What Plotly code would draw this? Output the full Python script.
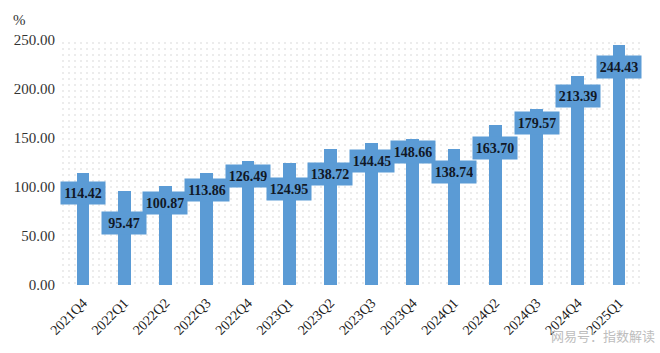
import plotly.graph_objects as go

categories = ["2021Q4", "2022Q1", "2022Q2", "2022Q3", "2022Q4", "2023Q1", "2023Q2",
              "2023Q3", "2023Q4", "2024Q1", "2024Q2", "2024Q3", "2024Q4", "2025Q1"]
values = [114.42, 95.47, 100.87, 113.86, 126.49, 124.95, 138.72,
          144.45, 148.66, 138.74, 163.70, 179.57, 213.39, 244.43]
tick_vals = [0, 50, 100, 150, 200, 250]
tick_text = ["0.00", "50.00", "100.00", "150.00", "200.00", "250.00"]
# label offsets below bar top (style, px)
label_shift = [20, 32, 17, 17, 15, 26, 25, 18, 13, 23, 23, 14, 20, 22]

BLUE = "#5B9BD5"
SERIF = "Liberation Serif, Times New Roman, serif"
ymax = tick_vals[-1]

fig = go.Figure()
# dotted plot-area background
fig.add_trace(go.Bar(
    x=categories, y=[ymax] * len(categories), width=1,
    marker=dict(color="white", line=dict(width=0),
                pattern=dict(shape=".", fgcolor="#d0d0d0", bgcolor="white",
                             size=6, solidity=0.1)),
    hoverinfo="skip", showlegend=False))
fig.add_trace(go.Bar(
    x=categories, y=values, width=0.31,
    marker=dict(color=BLUE, line=dict(width=0)), showlegend=False))

for c, v, s in zip(categories, values, label_shift):
    fig.add_annotation(x=c, y=v, yshift=-s, text=f"<b>{v:.2f}</b>", showarrow=False,
                       bgcolor=BLUE, borderpad=3, width=38, height=16,
                       font=dict(family=SERIF, size=14, color="#111827"))

fig.add_annotation(xref="paper", yref="paper", x=-0.055, y=1.04, xanchor="right", yanchor="bottom",
                   text="%", showarrow=False,
                   font=dict(family=SERIF, size=15, color="#333333"))
fig.add_annotation(xref="paper", yref="paper", x=1.025, y=-0.255, xanchor="right", yanchor="bottom",
                   text="网易号：指数解读", showarrow=False,
                   font=dict(family="Noto Sans CJK SC", size=13, color="#bdbdbd"))

fig.update_layout(
    width=660, height=353, margin=dict(l=60, r=18, t=40, b=68),
    barmode="overlay", bargap=0, plot_bgcolor="white", paper_bgcolor="white",
    xaxis=dict(type="category", tickangle=-45, showgrid=False, showline=False, ticks="",
               ticklabelstandoff=6,
               tickfont=dict(family=SERIF, size=14, color="#222222")),
    yaxis=dict(range=[0, ymax], tickvals=tick_vals, ticktext=tick_text, showgrid=False,
               zeroline=False, showline=False, ticks="", ticklen=0, ticklabelstandoff=4,
               tickfont=dict(family=SERIF, size=15, color="#333333")),
)
fig.write_html("out.html")
